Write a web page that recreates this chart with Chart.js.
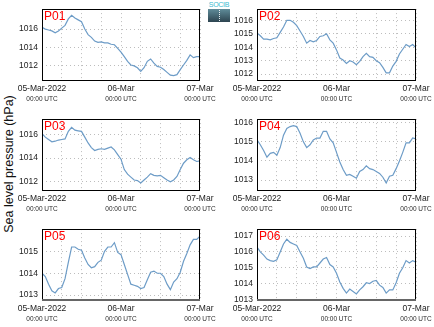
<!DOCTYPE html>
<html lang="en">
<head>
  <meta charset="UTF-8">
  <title>Sea level pressure, P01-P06</title>
  <script src="https://cdn.jsdelivr.net/npm/chart.js"></script>
  <style>
    body {
      margin: 0;
      background-color: #fff;
      font-family: 'Liberation Sans', Arial, sans-serif;
    }
    .page {
      position: relative;
      width: 434px;
      height: 327px;
      overflow: hidden;
    }
    .panel {
      position: absolute;
      width: 217px;
      height: 110px;
    }
    .y-title {
      position: absolute;
      left: 9px;
      top: 164px;
      transform: translate(-50%, -50%) rotate(-90deg);
      white-space: nowrap;
      font-size: 12.5px;
      color: #111;
    }
    .logo {
      position: absolute;
      left: 208px;
      top: 1px;
      width: 22px;
    }
    .logo span {
      display: block;
      font-size: 7px;
      line-height: 8px;
      text-align: center;
      color: #3bbad0;
      letter-spacing: -0.3px;
    }
    .logo .box {
      height: 13px;
      background: linear-gradient(180deg, #5f8c99 0%, #2d4450 100%);
      position: relative;
    }
    .logo .box::after {
      content: '';
      position: absolute;
      left: 11px;
      top: 1px;
      height: 11px;
      border-left: 1px dotted #e8f0f2;
    }
  </style>
</head>
<body>
  <div class="page">
    <div class="y-title">Sea level pressure (hPa)</div>
    <div class="logo"><span>SOCIB</span><div class="box"></div></div>
    <div class="panel" style="left:0;top:0"><canvas id="p01"></canvas></div>
    <div class="panel" style="left:217px;top:0"><canvas id="p02"></canvas></div>
    <div class="panel" style="left:0;top:110px"><canvas id="p03"></canvas></div>
    <div class="panel" style="left:217px;top:110px"><canvas id="p04"></canvas></div>
    <div class="panel" style="left:0;top:220px;height:107px"><canvas id="p05"></canvas></div>
    <div class="panel" style="left:217px;top:220px;height:107px"><canvas id="p06"></canvas></div>
  </div>

  <script>
    // hours since 05-Mar-2022 00:00 UTC, hourly
    const hours = Array.from({ length: 49 }, (_, i) => i);
    const gridHours = [0, 6, 12, 18, 24, 30, 36, 42, 48];
    const dateLabels = { 0: '05-Mar-2022', 24: '06-Mar', 48: '07-Mar' };
    const timeLabel = '00:00 UTC';

    // sea level pressure (hPa)
    const p01 = [1016.2, 1016.0, 1015.9, 1015.8, 1015.6, 1015.8, 1016.1, 1016.4, 1017.1, 1017.5,
      1017.2, 1017.0, 1016.8, 1016.0, 1015.4, 1015.1, 1014.7, 1014.55, 1014.6, 1014.5,
      1014.5, 1014.35, 1014.3, 1013.9, 1013.5, 1013.0, 1012.5, 1012.1, 1012.0, 1011.8,
      1011.4, 1011.8, 1012.5, 1012.75, 1012.3, 1011.95, 1011.85, 1011.6, 1011.3, 1011.0,
      1010.95, 1011.05, 1011.6, 1012.1, 1012.6, 1013.2, 1012.9, 1013.0, 1013.0];
    const p02 = [1015.05, 1014.85, 1014.6, 1014.6, 1014.55, 1014.65, 1014.7, 1015.1, 1015.5, 1016.0,
      1016.0, 1015.85, 1015.6, 1015.2, 1014.8, 1014.3, 1014.5, 1014.4, 1014.5, 1014.8,
      1014.85, 1015.0, 1014.55, 1014.3, 1013.8, 1013.2, 1013.05, 1012.8, 1013.0, 1012.9,
      1012.7, 1012.95, 1013.3, 1013.55, 1013.3, 1013.25, 1013.0, 1012.85, 1012.5, 1012.1,
      1012.1, 1012.6, 1012.95, 1013.5, 1013.85, 1014.2, 1014.05, 1014.2, 1013.95];
    const p03 = [1016.1, 1015.8, 1015.6, 1015.4, 1015.45, 1015.55, 1015.6, 1015.65, 1016.3, 1016.65,
      1016.4, 1016.35, 1016.3, 1015.8, 1015.3, 1014.9, 1014.65, 1014.75, 1014.8, 1014.75,
      1014.85, 1014.95, 1014.7, 1014.3, 1013.9, 1013.0, 1012.6, 1012.35, 1012.1, 1012.05,
      1011.85, 1012.1, 1012.35, 1012.65, 1012.5, 1012.45, 1012.5, 1012.3, 1012.1, 1011.95,
      1012.1, 1012.4, 1013.0, 1013.55, 1013.85, 1014.05, 1013.85, 1013.7, 1013.75];
    const p04 = [1015.1, 1014.85, 1014.55, 1014.2, 1014.4, 1014.45, 1014.3, 1014.7, 1015.35, 1015.7,
      1015.8, 1015.85, 1015.8, 1015.45, 1015.0, 1014.7, 1014.85, 1015.1, 1015.2, 1015.2,
      1015.55, 1015.55, 1015.15, 1014.95, 1014.45, 1013.95, 1013.55, 1013.25, 1013.3, 1013.2,
      1013.1, 1013.45, 1013.55, 1013.75, 1013.6, 1013.55, 1013.45, 1013.35, 1013.15, 1012.85,
      1013.2, 1013.25, 1013.6, 1014.0, 1014.45, 1014.95, 1014.95, 1015.2, 1015.15];
    const p05 = [1014.0, 1013.85, 1013.5, 1013.2, 1013.1, 1013.3, 1013.35, 1013.75, 1014.5, 1015.2,
      1015.2, 1015.1, 1015.05, 1014.7, 1014.4, 1014.25, 1014.3, 1014.5, 1014.6, 1015.0,
      1015.2, 1015.2, 1015.4, 1014.95, 1014.85, 1014.4, 1013.95, 1013.5, 1013.45, 1013.4,
      1013.3, 1013.35, 1013.7, 1014.05, 1014.1, 1014.0, 1014.0, 1013.85, 1013.5, 1013.25,
      1013.6, 1013.75, 1014.05, 1014.55, 1014.9, 1015.3, 1015.55, 1015.55, 1015.7];
    const p06 = [1016.3, 1016.0, 1015.8, 1015.55, 1015.45, 1015.4, 1015.5, 1016.0, 1016.5, 1016.8,
      1016.6, 1016.5, 1016.4, 1016.0, 1015.6, 1015.05, 1014.95, 1015.05, 1015.05, 1015.3,
      1015.55, 1015.65, 1015.2, 1015.05, 1014.65, 1014.1, 1013.7, 1013.4, 1013.65, 1013.5,
      1013.35, 1013.6, 1013.8, 1014.05, 1014.0, 1014.15, 1014.2, 1013.9, 1013.75, 1013.4,
      1013.6, 1013.6, 1014.05, 1014.65, 1015.0, 1015.45, 1015.3, 1015.45, 1015.35];

    // y tick values and axis limits per station
    const yTicks01 = [1012, 1014, 1016];
    const yTicks02 = [1012, 1013, 1014, 1015, 1016];
    const yTicks03 = [1012, 1014, 1016];
    const yTicks04 = [1013, 1014, 1015, 1016];
    const yTicks05 = [1013, 1014, 1015];
    const yTicks06 = [1013, 1014, 1015, 1016, 1017];
    const yLimits01 = [1010.36, 1018.17];
    const yLimits02 = [1011.49, 1016.83];
    const yLimits03 = [1011.15, 1017.36];
    const yLimits04 = [1012.43, 1016.19];
    const yLimits05 = [1012.73, 1016.02];
    const yLimits06 = [1012.9, 1017.44];

    const FONT = "'Liberation Sans', Arial, sans-serif";

    // frame, station name and the small time line under the dates
    const panelDecor = {
      id: 'panelDecor',
      afterDraw(chart, args, opts) {
        const { ctx, chartArea: a } = chart;
        const x = chart.scales.x;
        ctx.save();
        ctx.strokeStyle = '#000';
        ctx.lineWidth = 1;
        ctx.strokeRect(Math.round(a.left) + 0.5, Math.round(a.top) + 0.5,
          Math.round(a.width) - 1, Math.round(a.height) - 1);
        if (opts.heavyBase) {
          ctx.strokeStyle = '#666';
          ctx.lineWidth = 2;
          ctx.beginPath();
          ctx.moveTo(a.left, Math.round(a.bottom) - 1);
          ctx.lineTo(a.right, Math.round(a.bottom) - 1);
          ctx.stroke();
        }

        ctx.fillStyle = '#ff0000';
        ctx.font = '12px ' + FONT;
        ctx.textAlign = 'left';
        ctx.textBaseline = 'top';
        ctx.fillText(opts.name, a.left + 2, a.top + 2);

        ctx.fillStyle = '#2a2a2a';
        ctx.font = '6.5px ' + FONT;
        ctx.textAlign = 'center';
        ctx.textBaseline = 'middle';
        Object.keys(dateLabels).forEach(h => {
          ctx.fillText(timeLabel, x.getPixelForValue(Number(h)), a.bottom + 18);
        });
        ctx.restore();
      }
    };

    function makePanel(id, name, values, yTicks, yLimits, col, lastRow) {
      return new Chart(document.getElementById(id), {
        type: 'line',
        data: {
          labels: hours,
          datasets: [{
            data: values.map((v, i) => ({ x: hours[i], y: v })),
            borderColor: '#6d9cc7',
            borderWidth: 1.2,
            pointRadius: 0,
            tension: 0,
            fill: false
          }]
        },
        options: {
          responsive: true,
          maintainAspectRatio: false,
          animation: false,
          layout: {
            padding: { left: 0, right: col === 0 ? 17 : 18, top: 8, bottom: 0 }
          },
          plugins: {
            legend: { display: false },
            tooltip: { enabled: false },
            panelDecor: { name: name, heavyBase: lastRow }
          },
          scales: {
            x: {
              type: 'linear',
              min: 0,
              max: 48,
              afterBuildTicks: s => { s.ticks = gridHours.map(v => ({ value: v })); },
              afterFit: s => { s.height = lastRow ? 26 : 29; },
              border: { display: false, dash: [1, 3] },
              grid: {
                color: '#bdbdbd',
                lineWidth: 1,
                drawTicks: false
              },
              ticks: {
                autoSkip: false,
                maxRotation: 0,
                padding: 3,
                color: '#222',
                font: { family: FONT, size: 8.5 },
                callback: v => dateLabels[v] || ''
              }
            },
            y: {
              min: yLimits[0],
              max: yLimits[1],
              afterBuildTicks: s => { s.ticks = yTicks.map(v => ({ value: v })); },
              afterFit: s => { s.width = col === 0 ? 42 : 40; },
              border: { display: false, dash: [1, 3] },
              grid: {
                color: '#bdbdbd',
                lineWidth: 1,
                drawTicks: false
              },
              ticks: {
                padding: 4,
                color: '#222',
                font: { family: FONT, size: 8.5 },
                callback: v => String(v)
              }
            }
          }
        },
        plugins: [panelDecor]
      });
    }

    makePanel('p01', 'P01', p01, yTicks01, yLimits01, 0, false);
    makePanel('p02', 'P02', p02, yTicks02, yLimits02, 1, false);
    makePanel('p03', 'P03', p03, yTicks03, yLimits03, 0, false);
    makePanel('p04', 'P04', p04, yTicks04, yLimits04, 1, false);
    makePanel('p05', 'P05', p05, yTicks05, yLimits05, 0, true);
    makePanel('p06', 'P06', p06, yTicks06, yLimits06, 1, true);
  </script>
</body>
</html>
